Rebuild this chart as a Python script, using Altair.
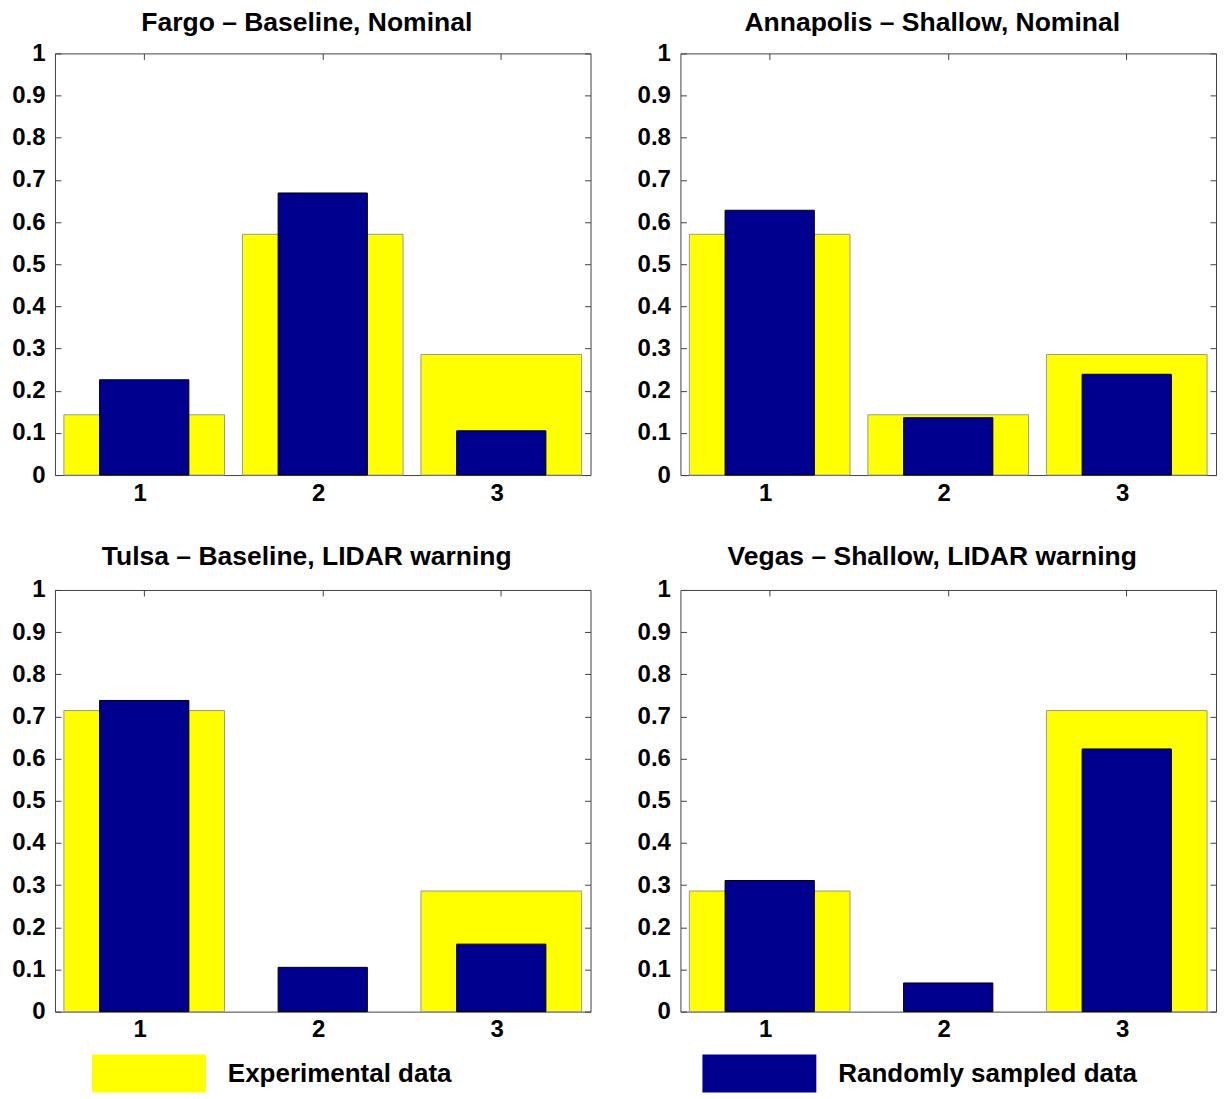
import altair as alt
import pandas as pd

# ---- data ----
panels = [
    "Fargo – Baseline, Nominal",
    "Annapolis – Shallow, Nominal",
    "Tulsa – Baseline, LIDAR warning",
    "Vegas – Shallow, LIDAR warning",
]
categories = ["1", "2", "3"]
experimental = [
    [0.143, 0.571, 0.286],
    [0.571, 0.143, 0.286],
    [0.714, 0.0, 0.286],
    [0.286, 0.0, 0.714],
]
sampled = [
    [0.226, 0.669, 0.105],
    [0.628, 0.136, 0.239],
    [0.738, 0.105, 0.160],
    [0.311, 0.068, 0.623],
]
series_names = ["Experimental data", "Randomly sampled data"]
series_colors = ["#FFFF00", "#00008F"]
y_ticks = [0, 0.1, 0.2, 0.3, 0.4, 0.5, 0.6, 0.7, 0.8, 0.9, 1.0]
title_offsets = [5, 5, 7, 7]

rows = []
for p, e, s in zip(panels, experimental, sampled):
    for c, ev, sv in zip(categories, e, s):
        rows.append(dict(panel=p, cat=c, series=series_names[0], value=ev))
        rows.append(dict(panel=p, cat=c, series=series_names[1], value=sv))
df = pd.DataFrame(rows)

FONT = "Liberation Sans"
W, H = 536, 422
FRAME = "#404040"

color = alt.Color(
    "series:N",
    scale=alt.Scale(domain=series_names, range=series_colors),
    legend=alt.Legend(
        title=None,
        orient="bottom",
        direction="horizontal",
        symbolType="M-3,-1H3V1H-3Z",
        symbolSize=1444,
        symbolOffset=75,
        symbolStrokeWidth=0,
        symbolOpacity=1,
        labelFontSize=26,
        labelFont=FONT,
        labelFontWeight="bold",
        labelColor="black",
        labelOffset=60,
        columnPadding=214,
        offset=12,
        labelLimit=600,
    ),
)


def panel(name, toff):
    base = alt.Chart(df).transform_filter(alt.datum.panel == name).transform_filter(alt.datum.value > 0)
    xscale = alt.Scale(domain=categories, paddingInner=0, paddingOuter=0)
    yscale = alt.Scale(domain=[0, 1], nice=False, zero=True)
    yellow = (
        base.transform_filter(alt.datum.series == series_names[0])
        .mark_bar(width=alt.RelativeBandSize(0.9), stroke="#9a9a9a", strokeWidth=1)
        .encode(
            x=alt.X(
                "cat:O",
                scale=xscale,
                axis=alt.Axis(
                    orient="bottom", title=None, labelAngle=0, ticks=False,
                    domain=False, grid=False, labelFontSize=24, labelFont=FONT,
                    labelFontWeight="bold", labelPadding=6, labelColor="black",
                    labelOffset=-4,
                ),
            ),
            y=alt.Y(
                "value:Q",
                scale=yscale,
                axis=alt.Axis(
                    orient="left", title=None, values=y_ticks, format=".1~f",
                    tickSize={"expr": "-6"}, tickColor=FRAME, domain=False, grid=False,
                    labelFontSize=24, labelFont=FONT, labelFontWeight="bold",
                    labelPadding=16, labelColor="black",
                ),
            ),
            color=color,
        )
    )
    navy = (
        base.transform_filter(alt.datum.series == series_names[1])
        .mark_bar(width=alt.RelativeBandSize(0.5), stroke="black", strokeWidth=1)
        .encode(
            x=alt.X(
                "cat:O",
                scale=xscale,
                axis=alt.Axis(
                    orient="top", title=None, labels=False, domain=False, grid=False,
                    tickSize={"expr": "-6"}, tickColor=FRAME, minExtent=0, maxExtent=0,
                ),
            ),
            y=alt.Y(
                "value:Q",
                scale=yscale,
                axis=alt.Axis(
                    orient="right", title=None, labels=False, domain=False, grid=False,
                    values=y_ticks, tickSize={"expr": "-6"}, tickColor=FRAME,
                    minExtent=0, maxExtent=0,
                ),
            ),
            color=color,
        )
    )
    return (
        alt.layer(yellow, navy, title=alt.Title(name, offset=toff, dx=-16))
        .resolve_axis(x="independent", y="independent")
        .properties(width=W, height=H)
    )


top = alt.hconcat(panel(panels[0], title_offsets[0]), panel(panels[1], title_offsets[1]), spacing=45)
bottom = alt.hconcat(panel(panels[2], title_offsets[2]), panel(panels[3], title_offsets[3]), spacing=45)

chart = (
    alt.vconcat(top, bottom, spacing=38)
    .properties(padding={"left": 3, "top": 1, "right": 0, "bottom": 0})
    .configure_view(stroke=FRAME, strokeWidth=1)
    .configure_title(font=FONT, fontSize=26.5, fontWeight="bold", anchor="middle", color="black")
)

chart.save("out.html", embed_options={"renderer": "svg", "actions": False})
